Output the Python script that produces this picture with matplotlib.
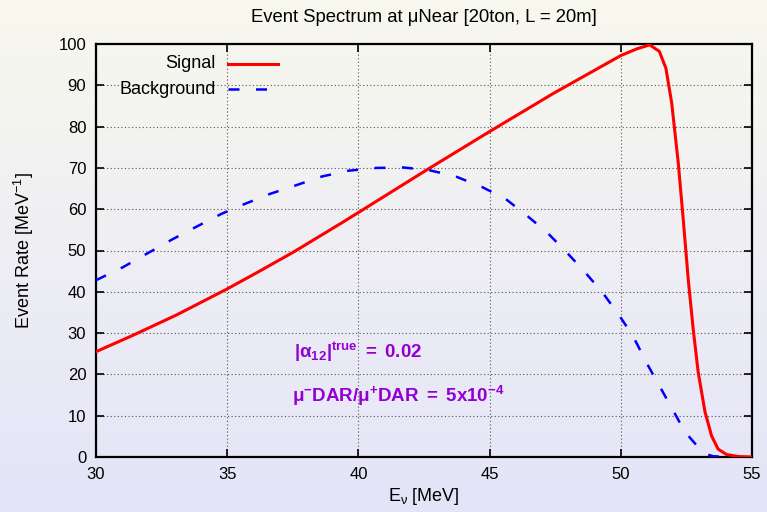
import numpy as np
import matplotlib
matplotlib.use("Agg")
import matplotlib.pyplot as plt
from matplotlib.lines import Line2D

plt.rcParams['font.family'] = ['Liberation Sans', 'DejaVu Sans']
plt.rcParams['mathtext.fontset'] = 'custom'
plt.rcParams['mathtext.rm'] = 'Liberation Sans'
plt.rcParams['mathtext.it'] = 'Liberation Sans:italic'
plt.rcParams['mathtext.bf'] = 'Liberation Sans:bold'

# ---- data ----
signal_e = [30, 31.42, 33.07, 35, 36.12, 37.52, 39.34, 40, 42.6, 45, 47.42, 50, 50.6, 51.1,
            51.47, 51.72, 51.94, 52.19, 52.38, 52.57, 52.76, 52.95, 53.21, 53.46, 53.71,
            54.03, 54.5, 55]
signal_rate = [25.5, 29.5, 34.4, 40.7, 44.6, 49.6, 56.6, 59.2, 69.5, 78.8, 88.0, 97.2, 98.8, 99.8,
               98.2, 94.1, 85.7, 71.2, 57.5, 43.0, 30.9, 20.5, 10.9, 5.1, 1.9,
               0.6, 0.1, 0.0]
bkg_e = [30, 31.04, 31.93, 32.88, 33.84, 34.79, 35.68, 36.63, 37.58, 38.6, 39.6, 40.7, 41.71,
         42.66, 43.68, 44.7, 45.59, 46.41, 47.17, 47.93, 48.63, 49.33, 49.97, 50.48, 50.99,
         51.49, 51.94, 52.44, 53.14, 53.5, 54]
bkg_rate = [42.8, 46.0, 49.2, 52.6, 55.8, 58.9, 61.3, 63.7, 65.7, 67.9, 69.3, 70.0, 70.1,
            69.5, 68.0, 65.4, 62.6, 58.5, 54.5, 49.6, 44.8, 39.6, 34.0, 29.1, 22.7,
            17.0, 11.9, 6.1, 1.0, 0.2, 0.0]
xticks = [30, 35, 40, 45, 50, 55]
yticks = [0, 10, 20, 30, 40, 50, 60, 70, 80, 90, 100]
series_labels = ['Signal', 'Background']

fig = plt.figure(figsize=(7.67, 5.12), dpi=100)

# background gradient
bg = fig.add_axes([0, 0, 1, 1], zorder=-10)
top = np.array([248, 248, 238]) / 255.0
bot = np.array([228, 228, 249]) / 255.0
t = np.linspace(0, 1, 256)[:, None]
grad = (top[None, :] * (1 - t) + bot[None, :] * t)[:, None, :]
bg.imshow(grad, aspect='auto', extent=[0, 1, 0, 1])
bg.axis('off')

ax = fig.add_axes([96 / 767, 1 - 457 / 512, (752 - 96) / 767, (457 - 44) / 512])
ax.set_facecolor('none')

dash = (0, (4.4, 6.6))
ax.plot(signal_e, signal_rate, color='#ff0000', lw=2.2, zorder=3)
ax.plot(bkg_e, bkg_rate, color='#0000ff', lw=1.8, linestyle=dash, zorder=3)

ax.set_xlim(30, 55)
ax.set_ylim(0, 100)
ax.set_xticks(xticks)
ax.set_yticks(yticks)
ax.grid(True, color='#555555', linestyle=(0, (1, 2.2)), lw=0.8)
ax.tick_params(direction='in', length=6, width=1.2, top=True, right=True,
               labelsize=12, pad=7)
for s in ax.spines.values():
    s.set_linewidth(1.6)

ax.set_title('Event Spectrum at μNear [20ton, L = 20m]', fontsize=13.3, pad=16)
ax.set_xlabel(r'E$_\mathrm{ν}$ [MeV]', fontsize=13, labelpad=3)
ax.set_ylabel(r'Event Rate [MeV$^{-1}$]', fontsize=13, labelpad=16)

# legend (gnuplot style: right-aligned text, sample on the right)
tr = ax.transAxes
ax.text(0.182, 0.952, series_labels[0], transform=tr, ha='right', va='center', fontsize=13)
ax.text(0.182, 0.890, series_labels[1], transform=tr, ha='right', va='center', fontsize=13)
ax.add_line(Line2D([0.201, 0.278], [0.952, 0.952], transform=tr, color='#ff0000', lw=2.2))
ax.add_line(Line2D([0.201, 0.278], [0.890, 0.890], transform=tr, color='#0000ff', lw=1.8,
                   linestyle=dash))

purple = '#9400d3'
ax.text(0.302, 0.255, r'$\mathbf{|α_{12}|^{true}\ =\ 0.02}$', transform=tr,
        color=purple, fontsize=13.5, va='center', ha='left')
ax.text(0.299, 0.148, r'$\mathbf{μ^{-}DAR/μ^{+}DAR\ =\ 5x10^{-4}}$', transform=tr,
        color=purple, fontsize=13.5, va='center', ha='left')

fig.savefig('out.png', dpi=100)
